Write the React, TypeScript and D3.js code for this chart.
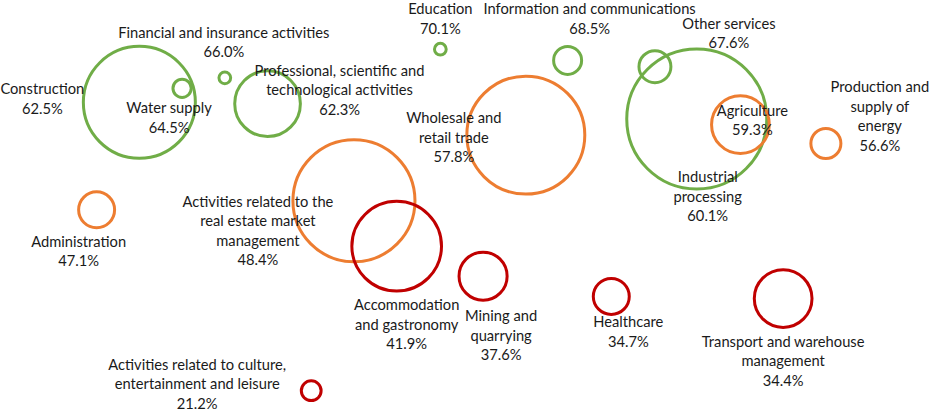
import React from 'react';
import { scaleLinear, scaleSqrt, scaleThreshold } from 'd3';

// sector shares (%), positioned along a free x axis, bubble size = weight
const sectors = [
  ['Construction'],
  ['Water supply'],
  ['Financial and insurance activities'],
  ['Professional, scientific and', 'technological activities'],
  ['Education'],
  ['Information and communications'],
  ['Wholesale and', 'retail trade'],
  ['Other services'],
  ['Industrial', 'processing'],
  ['Agriculture'],
  ['Production and', 'supply of', 'energy'],
  ['Administration'],
  ['Activities related to the', 'real estate market', 'management'],
  ['Accommodation', 'and gastronomy'],
  ['Mining and', 'quarrying'],
  ['Healthcare'],
  ['Transport and warehouse', 'management'],
  ['Activities related to culture,', 'entertainment and leisure'],
];
const percentages = [62.5, 64.5, 66.0, 62.3, 70.1, 68.5, 57.8, 67.6, 60.1, 59.3, 56.6, 47.1, 48.4, 41.9, 37.6, 34.7, 34.4, 21.2];
const xValues = [15.0, 19.6, 24.2, 28.8, 47.4, 61.1, 56.6, 70.5, 75.0, 79.7, 88.9, 10.4, 38.1, 42.7, 52.0, 65.8, 84.3, 33.5];
const sizes = [64, 1.7, 0.7, 22, 0.7, 4, 71, 5.2, 100, 17, 4.6, 6.6, 76, 41, 11.8, 6.6, 17, 2];

// label offsets from bubble centre (first line centre), layout only
const labelOffsets: [number, number][] = [
  [-97, -14], [-13, 19], [-1, -46], [72, -34], [0, -41], [22, -52],
  [-72, -18], [74, -44], [11, 57], [12, -15], [54, -57], [-18, 31],
  [-96, 0], [10, 58], [18, 39], [17, 25], [0, 42], [-114, -27],
];

const W = 929;
const H = 412;
const lineH = 19.5;

export default function App() {
  const x = scaleLinear().domain([0, 100]).range([0, W]);
  const y = scaleLinear().domain([15, 75]).range([434, 15]);
  const r = scaleSqrt().domain([0, 100]).range([0, 70]);
  const color = scaleThreshold<number, string>()
    .domain([45, 60])
    .range(['#C00000', '#ED7D31', '#70AD47']);

  const items = sectors.map((lines, i) => ({
    lines,
    pct: percentages[i],
    cx: x(xValues[i]),
    cy: y(percentages[i]),
    rad: r(sizes[i]),
    off: labelOffsets[i],
  }));

  return (
    <svg width={W} height={H} style={{ position: 'absolute', left: 0, top: 0, background: '#fff' }}>
      <g>
        {items.map((d, i) => (
          <circle key={i} cx={d.cx} cy={d.cy} r={d.rad} fill="none" stroke={color(d.pct)} strokeWidth={3} />
        ))}
      </g>
      <g fontFamily="Lato, 'Open Sans', sans-serif" fontSize={14.7} fill="#1a1a1a" textAnchor="middle">
        {items.map((d, i) => {
          const lx = d.cx + d.off[0];
          const ly = d.cy + d.off[1];
          const all = [...d.lines, d.pct.toFixed(1) + '%'];
          return (
            <text key={i} x={lx} y={ly} dominantBaseline="central">
              {all.map((t, j) => (
                <tspan key={j} x={lx} y={ly + j * lineH}>{t}</tspan>
              ))}
            </text>
          );
        })}
      </g>
    </svg>
  );
}
